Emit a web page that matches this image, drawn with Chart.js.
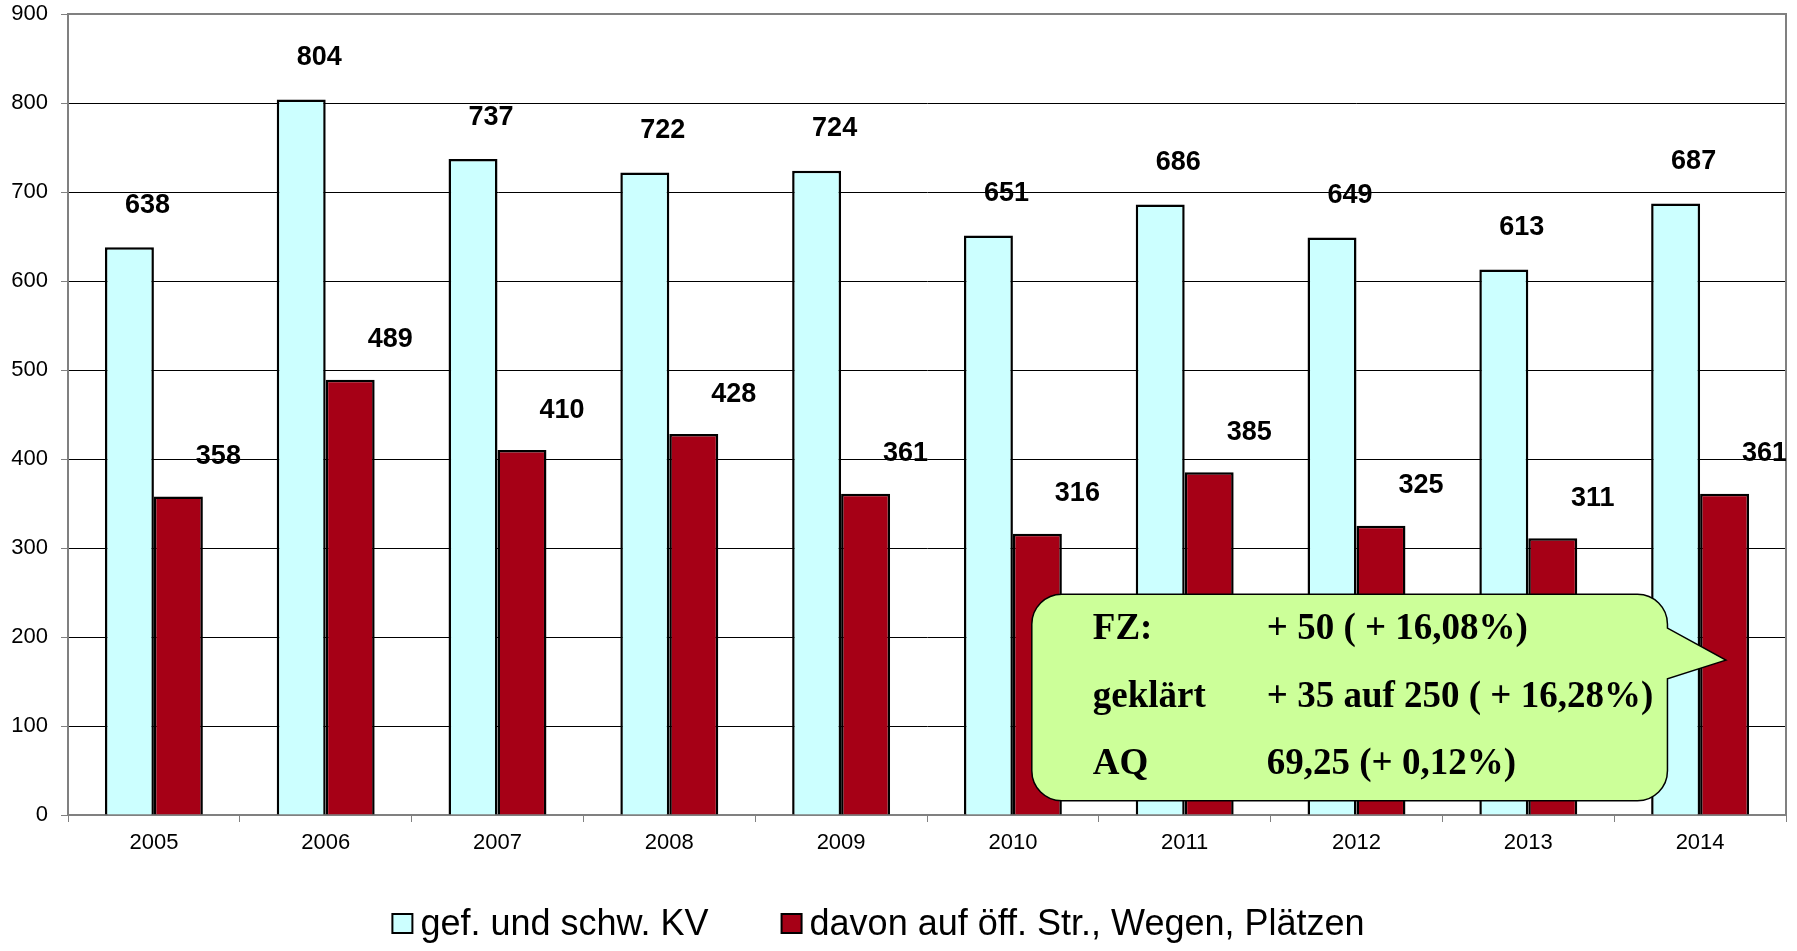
<!DOCTYPE html>
<html>
<head>
<meta charset="utf-8">
<script src="https://cdn.jsdelivr.net/npm/chart.js@4.4.1/dist/chart.umd.min.js"></script>
<style>
  html, body { margin: 0; padding: 0; background: #fff; }
</style>
</head>
<body>
<canvas id="chart" width="1797" height="951"></canvas>
<script>
const years = ['2005', '2006', '2007', '2008', '2009', '2010', '2011', '2012', '2013', '2014'];
const seriesNames = ['gef. und schw. KV', 'davon auf öff. Str., Wegen, Plätzen'];
const totalCases = [638, 804, 737, 722, 724, 651, 686, 649, 613, 687];
const publicPlaces = [358, 489, 410, 428, 361, 316, 385, 325, 311, 361];
const calloutLabels = ['FZ:', 'geklärt', 'AQ'];
const calloutValues = ['+ 50 ( + 16,08%)', '+ 35 auf 250 ( + 16,28%)', '69,25 (+ 0,12%)'];

const sans = '"Liberation Sans", Arial, sans-serif';
const serif = '"Liberation Serif", "Times New Roman", serif';
const axisGrey = '#808080';

// grey frame on top and right of the plot area
const plotFrame = {
    id: 'plotFrame',
    beforeDatasetsDraw(chart) {
        const a = chart.chartArea, ctx = chart.ctx;
        ctx.save();
        ctx.strokeStyle = axisGrey;
        ctx.lineWidth = 2;
        ctx.beginPath();
        ctx.moveTo(a.left, a.top);
        ctx.lineTo(a.right, a.top);
        ctx.lineTo(a.right, a.bottom);
        ctx.stroke();
        ctx.restore();
    }
};

// bold value labels above the bars (clipped at the right edge like the original)
const valueLabels = {
    id: 'valueLabels',
    afterDatasetsDraw(chart, args, opts) {
        const ctx = chart.ctx, a = chart.chartArea;
        ctx.save();
        ctx.beginPath();
        ctx.rect(0, 0, a.right, chart.height);
        ctx.clip();
        ctx.font = 'bold 27px ' + sans;
        ctx.fillStyle = '#000';
        ctx.textAlign = 'center';
        ctx.textBaseline = 'middle';
        chart.data.datasets.forEach((ds, i) => {
            const off = opts.offsets[i];
            chart.getDatasetMeta(i).data.forEach((bar, j) => {
                ctx.fillText(ds.data[j], bar.x + off.dx, bar.y + off.dy);
            });
        });
        ctx.restore();
    }
};

// speech bubble with the summary figures
const callout = {
    id: 'callout',
    afterDraw(chart, args, o) {
        const xs = chart.scales.x, ys = chart.scales.y, ctx = chart.ctx;
        const L = xs.getPixelForValue(o.left), R = xs.getPixelForValue(o.right);
        const T = ys.getPixelForValue(o.top), B = ys.getPixelForValue(o.bottom);
        const tipX = xs.getPixelForValue(o.tipX), tipY = ys.getPixelForValue(o.tipY);
        const b1 = ys.getPixelForValue(o.baseTop), b2 = ys.getPixelForValue(o.baseBottom);
        const r = 30;
        ctx.save();
        ctx.beginPath();
        ctx.moveTo(L + r, T);
        ctx.lineTo(R - r, T);
        ctx.arcTo(R, T, R, T + r, r);
        ctx.lineTo(R, b1);
        ctx.lineTo(tipX, tipY);
        ctx.lineTo(R, b2);
        ctx.lineTo(R, B - r);
        ctx.arcTo(R, B, R - r, B, r);
        ctx.lineTo(L + r, B);
        ctx.arcTo(L, B, L, B - r, r);
        ctx.lineTo(L, T + r);
        ctx.arcTo(L, T, L + r, T, r);
        ctx.closePath();
        ctx.fillStyle = 'rgb(204, 255, 153)';
        ctx.fill();
        ctx.strokeStyle = '#000';
        ctx.lineWidth = 1.5;
        ctx.stroke();

        ctx.fillStyle = '#000';
        ctx.font = 'bold 37px ' + serif;
        ctx.textAlign = 'left';
        ctx.textBaseline = 'alphabetic';
        calloutLabels.forEach((lab, i) => {
            const y = T + 45 + i * 67.5;
            ctx.fillText(lab, L + 61, y);
            ctx.fillText(calloutValues[i], L + 235, y);
        });
        ctx.restore();
    }
};

// legend below the axis
const bottomLegend = {
    id: 'bottomLegend',
    afterDraw(chart) {
        const ctx = chart.ctx;
        const box = 20, gap = 8, spacing = 73;
        ctx.save();
        ctx.font = '36px ' + sans;
        const items = chart.data.datasets.map(ds => ({
            text: ds.label, fill: ds.backgroundColor, w: ctx.measureText(ds.label).width
        }));
        const total = items.reduce((s, it) => s + box + gap + it.w, 0) + spacing * (items.length - 1);
        let x = chart.width / 2 - 20 - total / 2;
        const baseline = 935;
        items.forEach(it => {
            ctx.fillStyle = it.fill;
            ctx.fillRect(x, 914, box, 19);
            ctx.strokeStyle = '#000';
            ctx.lineWidth = 2;
            ctx.strokeRect(x, 914, box, 19);
            ctx.fillStyle = '#000';
            ctx.textBaseline = 'alphabetic';
            ctx.fillText(it.text, x + box + gap, baseline);
            x += box + gap + it.w + spacing;
        });
        ctx.restore();
    }
};

new Chart(document.getElementById('chart'), {
    type: 'bar',
    data: {
        labels: years,
        datasets: [
            {
                label: seriesNames[0],
                data: totalCases,
                backgroundColor: 'rgb(204, 255, 255)',
                borderColor: '#000',
                borderWidth: 2.5
            },
            {
                label: seriesNames[1],
                data: publicPlaces,
                backgroundColor: 'rgb(166, 0, 22)',
                borderColor: '#000',
                borderWidth: 2.5
            }
        ]
    },
    options: {
        responsive: false,
        animation: false,
        categoryPercentage: 0.57,
        barPercentage: 1.0,
        layout: { padding: { top: 14, right: 11, bottom: 76, left: 0 } },
        scales: {
            x: {
                ticks: { color: '#000', font: { family: sans, size: 22 }, padding: 8 },
                grid: { drawOnChartArea: false, offset: true, tickLength: 7, color: axisGrey },
                border: { color: axisGrey, width: 2 },
                afterFit: s => { s.height = 60; s.paddingLeft = 0; s.paddingRight = 0; }
            },
            y: {
                min: 0,
                max: 900,
                ticks: { stepSize: 100, color: '#000', font: { family: sans, size: 22 }, padding: 13 },
                grid: {
                    color: c => (c.tick.value === 0 || c.tick.value === 900) ? axisGrey : '#000',
                    tickColor: axisGrey,
                    tickLength: 7,
                    lineWidth: 1
                },
                border: { color: axisGrey, width: 2 },
                afterFit: s => { s.width = 68; s.paddingTop = 0; s.paddingBottom = 0; }
            }
        },
        plugins: {
            legend: { display: false },
            tooltip: { enabled: false },
            valueLabels: { offsets: [{ dx: 18, dy: -42 }, { dx: 40, dy: -40 }] },
            callout: {
                left: 5.11, right: 8.81, tipX: 9.15,
                top: 248, bottom: 16, tipY: 174, baseTop: 210, baseBottom: 153
            }
        }
    },
    plugins: [plotFrame, valueLabels, callout, bottomLegend]
});
</script>
</body>
</html>
